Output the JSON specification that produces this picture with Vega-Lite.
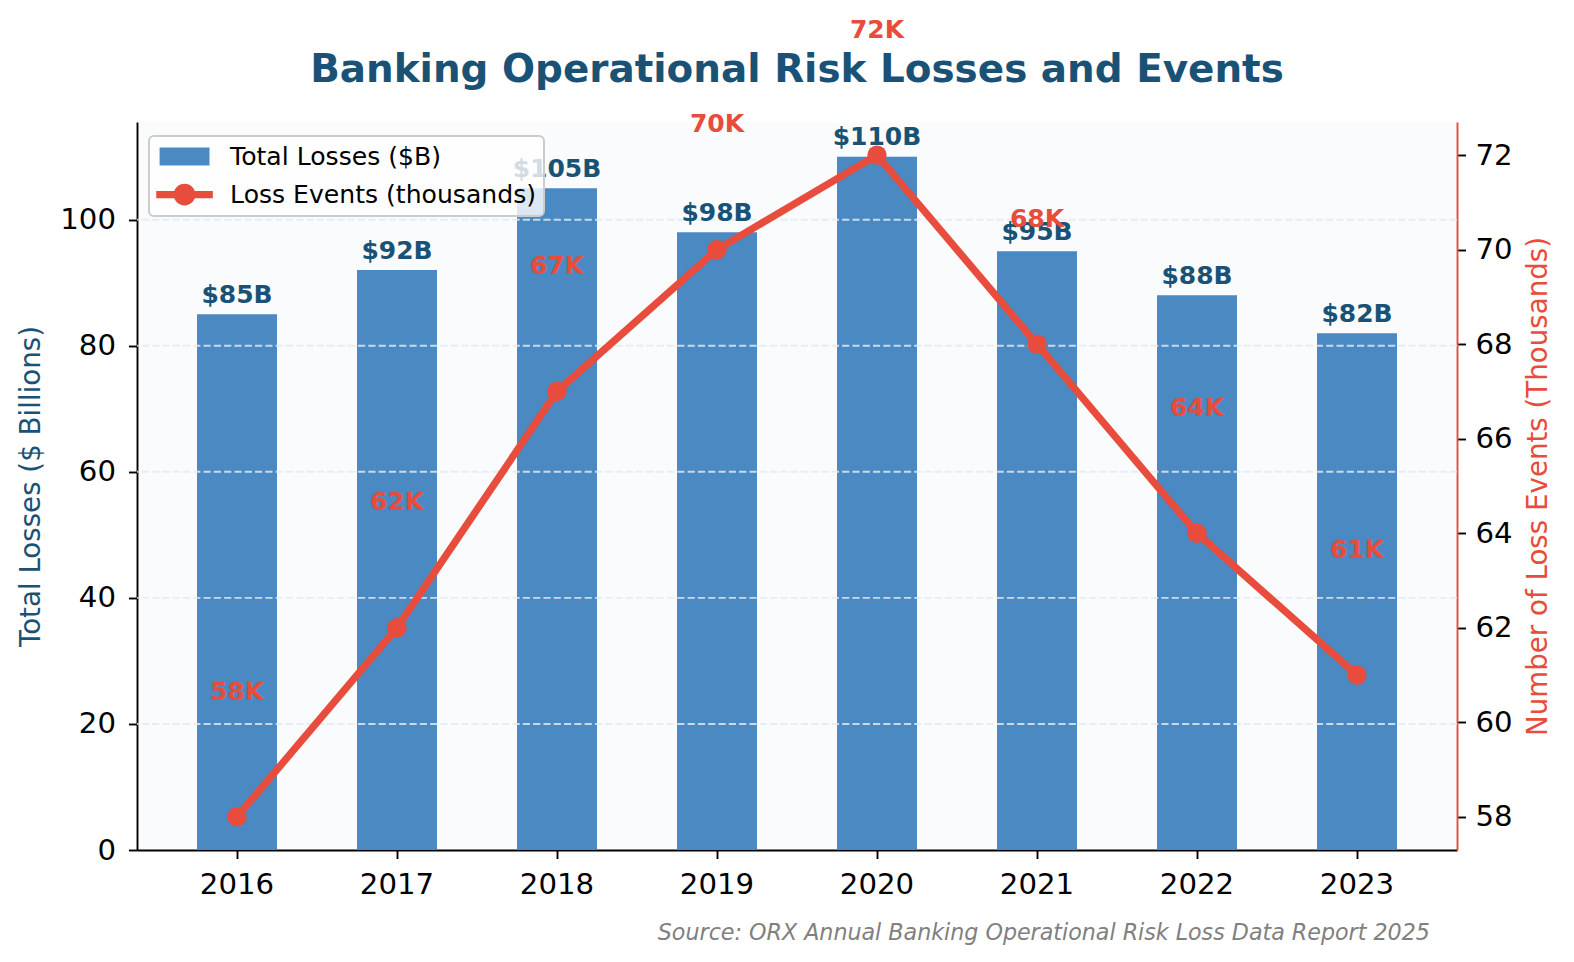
{
  "$schema": "https://vega.github.io/schema/vega-lite/v6.json",
  "width": 1320,
  "height": 728,
  "autosize": {"type": "none"},
  "padding": {"left": 137, "top": 122, "right": 117, "bottom": 112},
  "background": "#ffffff",
  "config": {
    "font": "DejaVu Sans",
    "view": {"stroke": null, "fill": "#f9fbfd"},
    "axis": {
      "labelFont": "DejaVu Sans",
      "labelFontSize": 29.2,
      "labelColor": "#000000",
      "ticks": true,
      "tickColor": "#000000",
      "tickSize": 8.5,
      "tickWidth": 1.9,
      "domain": true,
      "domainColor": "#000000",
      "domainWidth": 1.9,
      "grid": false,
      "titleFont": "DejaVu Sans",
      "titleFontWeight": "normal"
    }
  },
  "title": {
    "text": "Banking Operational Risk Losses and Events",
    "font": "DejaVu Sans",
    "fontSize": 38.9,
    "fontWeight": "bold",
    "color": "#1a5276",
    "anchor": "middle",
    "frame": "group",
    "baseline": "alphabetic",
    "offset": -103.5
  },
  "datasets": {
    "annual": [
      {"year": "2016", "losses": 85, "events": 58},
      {"year": "2017", "losses": 92, "events": 62},
      {"year": "2018", "losses": 105, "events": 67},
      {"year": "2019", "losses": 98, "events": 70},
      {"year": "2020", "losses": 110, "events": 72},
      {"year": "2021", "losses": 95, "events": 68},
      {"year": "2022", "losses": 88, "events": 64},
      {"year": "2023", "losses": 82, "events": 61}
    ],
    "gridlines": [
      {"level": 20},
      {"level": 40},
      {"level": 60},
      {"level": 80},
      {"level": 100}
    ]
  },
  "data": {"name": "annual"},
  "layer": [
    {
      "layer": [
        {
          "mark": {"type": "bar"},
          "encoding": {
            "x": {
              "field": "year",
              "type": "ordinal",
              "scale": {"paddingInner": 0.5, "paddingOuter": 0.375},
              "axis": {
                "labelAngle": 0,
                "labelPadding": 12,
                "ticks": true,
                "tickSize": 8.5,
                "title": "Source: ORX Annual Banking Operational Risk Loss Data Report 2025",
                "titleFontSize": 22.2,
                "titleFontStyle": "italic",
                "titleColor": "#808080",
                "titleX": 1292.4,
                "titleY": 89.5,
                "titleAlign": "right",
                "titleBaseline": "alphabetic"
              }
            },
            "y": {
              "field": "losses",
              "type": "quantitative",
              "scale": {"domain": [0, 115.5], "nice": false, "zero": true},
              "axis": {
                "orient": "left",
                "values": [0, 20, 40, 60, 80, 100],
                "ticks": true,
                "tickSize": 8.5,
                "labelPadding": 13,
                "title": "Total Losses ($ Billions)",
                "titleFontSize": 27.7,
                "titleColor": "#1a5276",
                "titleAngle": 270,
                "titleX": -97.7,
                "titleY": 364,
                "titleAlign": "center",
                "titleBaseline": "alphabetic"
              }
            },
            "color": {
              "datum": "Total Losses ($B)",
              "type": "nominal",
              "scale": {
                "domain": ["Total Losses ($B)", "Loss Events (thousands)"],
                "range": ["#4a89c1", "#e74c3c"]
              },
              "legend": {
                "title": null,
                "orient": "none",
                "legendX": 12,
                "legendY": 14,
                "padding": 8,
                "fillColor": "rgba(255,255,255,0.8)",
                "strokeColor": "#cccccc",
                "cornerRadius": 5,
                "labelFont": "DejaVu Sans",
                "labelFontSize": 25.1,
                "labelColor": "#000000",
                "labelLimit": 600,
                "symbolSize": 576,
                "symbolOffset": 15,
                "labelOffset": 33,
                "rowPadding": 12,
                "encode": {
                  "legend": {"update": {"strokeWidth": {"value": 2}}},
                  "symbols": {
                    "update": {
                      "shape": {"signal": "datum.value === 'Total Losses ($B)' ? 'M-2.08,-0.75L2.08,-0.75L2.08,0.75L-2.08,0.75Z' : 'M-2.36,-0.3L-0.7,-0.3L-0.7,0.3L-2.36,0.3Z M0.7,-0.3L2.36,-0.3L2.36,0.3L0.7,0.3Z M-0.91,0A0.91,0.91 0 1,1 0.91,0A0.91,0.91 0 1,1 -0.91,0Z'"},
                      "fill": {"signal": "datum.value === 'Total Losses ($B)' ? '#4a89c1' : '#e74c3c'"},
                      "stroke": {"value": "transparent"},
                      "strokeWidth": {"value": 0},
                      "opacity": {"value": 1},
                      "fillOpacity": {"value": 1}
                    }
                  }
                }
              }
            }
          }
        },
        {
          "data": {"name": "gridlines"},
          "mark": {
            "type": "rule",
            "stroke": "#e2e9f0",
            "strokeOpacity": 0.83,
            "strokeWidth": 1.9,
            "strokeDash": [7.2, 3.1]
          },
          "encoding": {
            "y": {"field": "level", "type": "quantitative"}
          }
        },
        {
          "transform": [{"calculate": "'$' + datum.losses + 'B'", "as": "loss_label"}],
          "mark": {
            "type": "text",
            "font": "DejaVu Sans",
            "fontSize": 25,
            "fontWeight": "bold",
            "color": "#1a5276",
            "baseline": "alphabetic",
            "align": "center",
            "dy": -11.5
          },
          "encoding": {
            "x": {"field": "year", "type": "ordinal", "bandPosition": 0.5},
            "y": {"field": "losses", "type": "quantitative"},
            "text": {"field": "loss_label"}
          }
        }
      ]
    },
    {
      "layer": [
        {
          "mark": {
            "type": "line",
            "strokeWidth": 7.3,
            "point": {"filled": true, "size": 376, "opacity": 1}
          },
          "encoding": {
            "x": {"field": "year", "type": "ordinal", "bandPosition": 0.5},
            "y": {
              "field": "events",
              "type": "quantitative",
              "scale": {"domain": [57.3, 72.7], "nice": false, "zero": false},
              "axis": {
                "orient": "right",
                "values": [58, 60, 62, 64, 66, 68, 70, 72],
                "ticks": true,
                "tickSize": 8.5,
                "labelPadding": 9.5,
                "domainColor": "#e74c3c",
                "title": "Number of Loss Events (Thousands)",
                "titleFontSize": 27.7,
                "titleColor": "#e74c3c",
                "titleAngle": 270,
                "titleX": 89.7,
                "titleY": 364,
                "titleAlign": "center",
                "titleBaseline": "alphabetic"
              }
            },
            "color": {"datum": "Loss Events (thousands)", "type": "nominal"}
          }
        },
        {
          "transform": [{"calculate": "datum.events + 'K'", "as": "event_label"}],
          "mark": {
            "type": "text",
            "font": "DejaVu Sans",
            "fontSize": 25,
            "fontWeight": "bold",
            "color": "#e74c3c",
            "baseline": "alphabetic",
            "align": "center",
            "dy": -117.4
          },
          "encoding": {
            "x": {"field": "year", "type": "ordinal", "bandPosition": 0.5},
            "y": {"field": "events", "type": "quantitative"},
            "text": {"field": "event_label"}
          }
        }
      ]
    }
  ],
  "resolve": {"scale": {"y": "independent"}}
}
